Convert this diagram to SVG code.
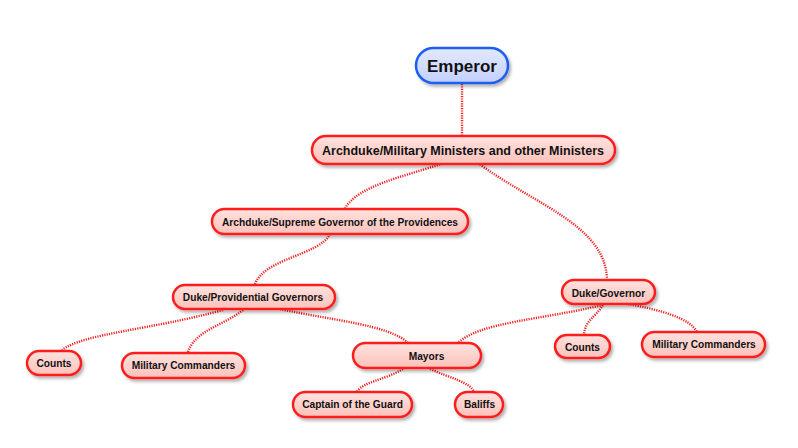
<svg xmlns="http://www.w3.org/2000/svg" width="798" height="448" viewBox="0 0 798 448">
<defs>
<linearGradient id="gr" x1="0" y1="0" x2="0" y2="1">
<stop offset="0" stop-color="#ffe2de"/>
<stop offset="1" stop-color="#fcc2bb"/>
</linearGradient>
<linearGradient id="gb" x1="0" y1="0" x2="0" y2="1">
<stop offset="0" stop-color="#e2e9ff"/>
<stop offset="1" stop-color="#c3d0fb"/>
</linearGradient>
<filter id="sh" x="-20%" y="-40%" width="140%" height="190%">
<feDropShadow dx="2" dy="2.5" stdDeviation="1.6" flood-color="#000" flood-opacity="0.3"/>
</filter>
</defs>
<style>
.n rect{fill:url(#gr);stroke:#ff1e1e;stroke-width:2.5;filter:url(#sh)}
.n text{font-family:"Liberation Sans",Arial,sans-serif;font-weight:bold;font-size:10.2px;fill:#111;text-anchor:middle}
#emperor rect{fill:url(#gb);stroke:#1f5ff0}
#emperor text{font-size:17px}
#ministers text{font-size:12.5px}
.c path{fill:none;stroke:#f02020;stroke-width:2.4;stroke-dasharray:1.2 1.2}
</style>
<rect width="798" height="448" fill="#fff"/>
<g id="connectors" class="c">
<path d="M462,84 L462,136"/>
<path d="M447,162 C400,178 360,185 345,208"/>
<path d="M478,163 C535,205 605,225 607,279"/>
<path d="M330,234 C320,255 265,258 255,284"/>
<path d="M223,310 C150,330 85,333 62,350"/>
<path d="M243,310 C225,325 195,330 188,352"/>
<path d="M280,309 C330,320 390,325 408,343"/>
<path d="M603,305 C540,320 480,322 458,343"/>
<path d="M603,305 C595,318 585,320 584,335"/>
<path d="M628,304 C660,310 690,318 697,332"/>
<path d="M403,369 C385,380 362,382 357,392"/>
<path d="M430,369 C450,378 470,382 474,392"/>
</g>
<g id="emperor" class="n"><rect x="416" y="48" width="92" height="35" rx="17.5"/><text x="462" y="72">Emperor</text></g>
<g id="ministers" class="n"><rect x="312" y="136" width="303" height="28" rx="14"/><text x="463" y="154.5">Archduke/Military Ministers and other Ministers</text></g>
<g id="supreme" class="n"><rect x="212" y="209" width="256" height="25" rx="12.5"/><text x="340" y="225.5">Archduke/Supreme Governor of the Providences</text></g>
<g id="dukeprov" class="n"><rect x="173" y="285" width="162" height="24" rx="12"/><text x="253" y="300.5">Duke/Providential Governors</text></g>
<g id="dukegov" class="n"><rect x="562" y="280" width="93" height="24" rx="12"/><text x="608.5" y="296.5">Duke/Governor</text></g>
<g id="counts-left" class="n"><rect x="27" y="351" width="54" height="24" rx="12"/><text x="54" y="366.5">Counts</text></g>
<g id="milcom-left" class="n"><rect x="122" y="353" width="123" height="25" rx="12.5"/><text x="183.5" y="368.5">Military Commanders</text></g>
<g id="mayors" class="n"><rect x="353" y="343" width="128" height="25" rx="12.5"/><text x="426.5" y="359.5">Mayors</text></g>
<g id="counts-right" class="n"><rect x="555" y="335" width="55" height="23" rx="11.5"/><text x="582.5" y="350.5">Counts</text></g>
<g id="milcom-right" class="n"><rect x="642" y="332" width="123" height="25" rx="12.5"/><text x="704" y="347.5">Military Commanders</text></g>
<g id="captain" class="n"><rect x="293" y="392" width="119" height="25" rx="12.5"/><text x="352.5" y="407.5">Captain of the Guard</text></g>
<g id="baliffs" class="n"><rect x="455" y="392" width="48" height="25" rx="12.5"/><text x="479.5" y="407.5">Baliffs</text></g>
</svg>
